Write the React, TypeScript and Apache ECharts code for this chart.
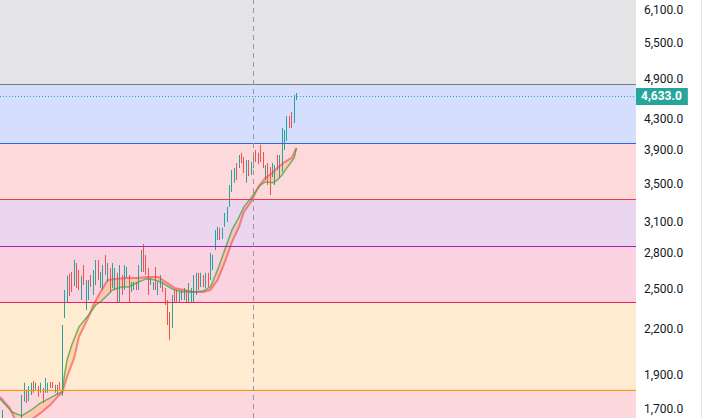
import React, { useEffect, useRef } from "react";
import * as echarts from "echarts";

// ---- price data (one entry per bar, left to right) ----
const barDirs = [
  "u","d","d","u","d","u","d","u","u","u",
  "d","u","u","d","u","d","u","d","u","u",
  "d","d","u","d","d","u","u","u","d","d",
  "u","d","d","u","d","u","u","d","u","u",
  "d","u","u","d","u","d","u","u","d","u",
  "d","u","u","d","u","u","d","u","u","d",
  "d","d","u","u","d","u","u","d","d","d",
  "d","u","d","d","u","u","u","d","u","u",
  "u","u","d","u","d","u","d","u","u","u",
  "u","d","u","u","u","u","u","u","d","u",
  "d","d","u","d","u","u","d","d","d","d",
  "u","d","d","u","u","d","u","u","u","u",
  "d","d","u","u"
];
const barLows = [
  1610,1590,1575,1570,1560,1565,1555,1560,1590,1741,
  1735,1746,1780,1792,1809,1769,1792,1735,1792,1792,
  1820,1820,1792,1780,1809,1775,2277,2389,2444,2475,
  2523,2507,2491,2412,2531,2336,2412,2515,2451,2531,
  2572,2507,2491,2614,2555,2475,2507,2491,2397,2389,
  2451,2491,2589,2389,2475,2491,2491,2491,2639,2639,
  2614,2451,2531,2491,2491,2451,2507,2475,2374,2227,
  2123,2206,2397,2397,2397,2412,2412,2397,2397,2389,
  2389,2451,2491,2515,2515,2507,2515,2572,2656,2832,
  2924,2924,2933,3050,3097,3250,3409,3510,3543,3681,
  3740,3623,3510,3589,3600,3681,3752,3728,3752,3681,
  3543,3487,3377,3577,3487,3658,3566,3635,3900,4014,
  4185,4185,4250,4578
];
const barHighs = [
  1696,1645,1630,1625,1615,1640,1610,1645,1780,1850,
  1809,1832,1850,1861,1850,1832,1850,1820,1879,1850,
  1855,1855,1838,1838,1855,2227,2491,2606,2623,2639,
  2742,2715,2656,2606,2699,2572,2572,2614,2656,2742,
  2742,2639,2699,2787,2715,2673,2715,2673,2631,2699,
  2614,2699,2681,2614,2555,2555,2555,2699,2832,2886,
  2787,2673,2589,2555,2681,2555,2614,2555,2507,2412,
  2322,2451,2491,2491,2475,2491,2507,2491,2547,2507,
  2614,2631,2631,2631,2614,2631,2631,2805,2787,3019,
  3050,3040,3040,3188,3250,3487,3658,3681,3740,3838,
  3864,3813,3777,3777,3752,3875,3900,3864,3964,3875,
  3717,3740,3693,3740,3717,3838,3838,4185,4158,4348,
  4348,4404,4650,4681
];
const lastPrice = 4633.0;

// ---- moving averages (bar index, value) ----
const fastIdx = [-1,4,8,12,16,20,23,25,26,27,29,32,36,39,41,44,46,50,53,56,60,64,67,71,75,80,84,87,90,93,96,99,101,104,108,110,113,115,117,119,122,123];
const fastVal = [1757,1685,1664,1696,1735,1763,1786,1798,1903,1991,2090,2213,2299,2374,2397,2451,2491,2515,2515,2547,2581,2572,2547,2499,2475,2475,2483,2515,2656,2832,3019,3148,3250,3344,3487,3521,3510,3543,3600,3682,3801,3925];
const slowIdx = [-1,3,5,8,10,13,16,20,23,25,27,30,32,36,38,41,44,48,52,57,60,65,69,72,76,80,84,87,90,93,96,99,101,104,107,110,113,115,118,121,123];
const slowVal = [1769,1707,1653,1615,1610,1653,1680,1724,1769,1792,1885,2004,2144,2284,2374,2475,2572,2581,2589,2589,2597,2597,2547,2507,2491,2475,2475,2491,2572,2723,2905,3050,3199,3302,3465,3566,3625,3682,3752,3801,3925];

// ---- horizontal levels & bands ----
const levels = [4818, 3976, 3323, 2859, 2389, 1814];
const levelColors = ["#787b86", "#2962ff", "#f23645", "#9c27b0", "#e91e63", "#ff9800"];
const bandColors = ["#e4e4e6", "#d5dffd", "#fdd9db", "#ebd6f0", "#fbd3e0", "#feebd0", "#fcd8dd"];

// ---- axis ----
const priceTicks = [6100, 5500, 4900, 4300, 3900, 3500, 3100, 2800, 2500, 2200, 1900, 1700];
const axisMin = 1653;
const axisMax = 6304;
const crosshairIndex = 105;
const xMin = -1.046;
const xMax = 265.06;

const UP = "#26a69a";
const DOWN = "#ef5350";
const L = Math.log;
const fmt = (n: number) =>
  n.toLocaleString("en-US", { minimumFractionDigits: 1, maximumFractionDigits: 1 });

export default function App() {
  const ref = useRef<HTMLDivElement>(null);
  useEffect(() => {
    if (!ref.current) return;
    const chart = echarts.init(ref.current, null, { renderer: "svg", width: 705, height: 418 });

    const bandEdges = [axisMax, ...levels, axisMin];
    const bands = bandColors.map((c, i) => [
      { yAxis: L(bandEdges[i]), itemStyle: { color: c } },
      { yAxis: L(bandEdges[i + 1]) },
    ]);

    const candleData = barLows.map((lo, i) => [i, L(lo), L(barHighs[i]), barDirs[i] === "u" ? 1 : 0]);

    const option: any = {
      animation: false,
      backgroundColor: "#ffffff",
      grid: { left: 0, right: 69, top: 0, bottom: 0, containLabel: false },
      xAxis: { type: "value", min: xMin, max: xMax, show: false },
      yAxis: {
        type: "value",
        position: "right",
        min: L(axisMin),
        max: L(axisMax),
        splitLine: { show: false },
        axisLine: { show: false },
        axisTick: { show: false },
        axisLabel: {
          customValues: priceTicks.map(L),
          formatter: (v: number) => fmt(Math.round(Math.exp(v))),
          color: "#131722",
          fontSize: 12,
          fontFamily: "Roboto",
          margin: 8,
          padding: [0, 0, 4, 0],
        },
      },
      graphic: [
        { type: "line", shape: { x1: 701.5, y1: 0, x2: 701.5, y2: 418 }, style: { stroke: "#e0e3eb", lineWidth: 1 } },
      ],
      series: [
        {
          type: "line",
          z: 1,
          data: [[0, L(lastPrice)]],
          symbol: "none",
          lineStyle: { opacity: 0 },
          silent: true,
          markArea: { silent: true, data: bands },
          markLine: {
            silent: true,
            symbol: ["none", "none"],
            label: { show: false },
            data: levels.map((v, i) => ({
              yAxis: L(v),
              lineStyle: { color: levelColors[i], type: "solid", width: 1, opacity: 1 },
            })),
          },
        },
        {
          type: "custom",
          z: 2,
          clip: true,
          silent: true,
          data: [[0]],
          renderItem: (params: any, api: any) => {
            const pts: number[][] = [];
            fastIdx.forEach((x, i) => pts.push(api.coord([x, L(fastVal[i])])));
            for (let i = slowIdx.length - 1; i >= 0; i--) pts.push(api.coord([slowIdx[i], L(slowVal[i])]));
            return {
              type: "polygon",
              shape: { points: pts },
              style: { fill: "rgba(255, 160, 60, 0.28)", stroke: "none" },
            };
          },
        },
        {
          type: "custom",
          z: 3,
          clip: true,
          silent: true,
          data: candleData,
          encode: { x: 0, y: [1, 2] },
          renderItem: (params: any, api: any) => {
            const x = api.value(0);
            const lo = api.coord([x, api.value(1)]);
            const hi = api.coord([x, api.value(2)]);
            const up = api.value(3) === 1;
            return {
              type: "rect",
              shape: { x: Math.floor(lo[0]), y: hi[1], width: 1, height: Math.max(1, lo[1] - hi[1]) },
              style: { fill: up ? UP : DOWN },
            };
          },
        },
        {
          type: "line",
          z: 4,
          silent: true,
          symbol: "none",
          data: slowIdx.map((x, i) => [x, L(slowVal[i])]),
          lineStyle: { color: "rgba(242, 54, 69, 0.55)", width: 2 },
        },
        {
          type: "line",
          z: 4,
          silent: true,
          symbol: "none",
          data: fastIdx.map((x, i) => [x, L(fastVal[i])]),
          lineStyle: { color: "rgba(67, 160, 71, 0.75)", width: 1.5 },
        },
        {
          type: "line",
          z: 5,
          clip: false,
          data: [[0, L(lastPrice)]],
          symbol: "none",
          lineStyle: { opacity: 0 },
          silent: true,
          markLine: {
            silent: true,
            symbol: ["none", "none"],
            data: [
              {
                xAxis: crosshairIndex,
                lineStyle: { color: "#9598a1", type: [5, 4], width: 1, opacity: 1 },
                label: { show: false },
              },
              {
                yAxis: L(lastPrice),
                lineStyle: { color: UP, type: [1, 2], width: 1, opacity: 1 },
                label: {
                  show: true,
                  position: "end",
                  distance: 0,
                  formatter: () => fmt(lastPrice),
                  backgroundColor: UP,
                  color: "#ffffff",
                  fontWeight: "bold",
                  fontSize: 12,
                  fontFamily: "Roboto",
                  lineHeight: 12,
                  padding: [3, 6, 2, 5],
                },
              },
            ],
          },
        },
      ],
    };
    chart.setOption(option);
    return () => chart.dispose();
  }, []);

  return <div ref={ref} style={{ position: "fixed", left: 0, top: 0, width: 705, height: 418 }} />;
}
